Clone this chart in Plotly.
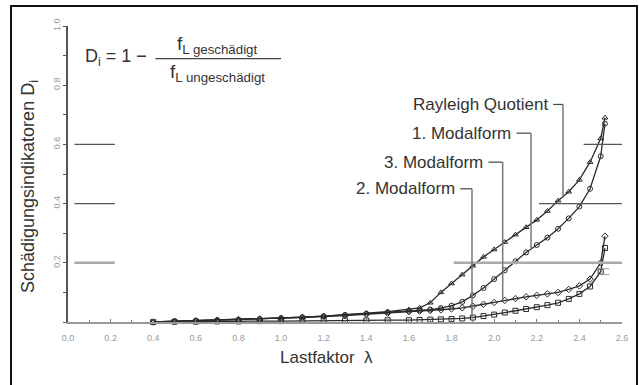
import plotly.graph_objects as go

lam = [0.4, 0.5, 0.6, 0.7, 0.8, 0.9, 1.0, 1.1, 1.2, 1.3, 1.4, 1.5, 1.6,
       1.65, 1.7, 1.75, 1.8, 1.85, 1.9, 1.95, 2.0, 2.05, 2.1, 2.15, 2.2,
       2.25, 2.3, 2.35, 2.4, 2.45, 2.5, 2.52]

rayleigh = [0, 0.002, 0.004, 0.006, 0.008, 0.01, 0.013, 0.016, 0.02, 0.024, 0.03, 0.035, 0.042,
            0.048, 0.065, 0.1, 0.13, 0.16, 0.19, 0.22, 0.245, 0.27, 0.295, 0.32, 0.345,
            0.375, 0.41, 0.44, 0.48, 0.54, 0.62, 0.69]
modal1 = [0, 0.002, 0.004, 0.006, 0.008, 0.01, 0.013, 0.016, 0.02, 0.024, 0.028, 0.033, 0.038,
          0.04, 0.042, 0.047, 0.055, 0.068, 0.09, 0.115, 0.145, 0.175, 0.205, 0.235, 0.26,
          0.285, 0.315, 0.35, 0.39, 0.45, 0.56, 0.67]
modal3 = [0, 0.002, 0.004, 0.006, 0.008, 0.01, 0.012, 0.015, 0.018, 0.022, 0.026, 0.03, 0.035,
          0.037, 0.039, 0.041, 0.044, 0.048, 0.053, 0.06, 0.066, 0.073, 0.079, 0.085, 0.09,
          0.095, 0.1, 0.11, 0.122, 0.145, 0.2, 0.29]
modal2 = [0, 0.001, 0.001, 0.002, 0.002, 0.003, 0.003, 0.004, 0.004, 0.005, 0.005, 0.006, 0.006,
          0.007, 0.008, 0.009, 0.01, 0.012, 0.015, 0.02, 0.025, 0.032, 0.038, 0.044, 0.05,
          0.057, 0.065, 0.078, 0.095, 0.12, 0.17, 0.25]

series_names = ["Rayleigh Quotient", "1. Modalform", "3. Modalform", "2. Modalform"]
series_values = [rayleigh, modal1, modal3, modal2]
series_symbols = ["triangle-up-open", "circle-open", "diamond-open", "square-open"]

x_ticks = [0.0, 0.2, 0.4, 0.6, 0.8, 1.0, 1.2, 1.4, 1.6, 1.8, 2.0, 2.2, 2.4, 2.6]
x_tick_labels = ["0.0", "0.2", "0.4", "0.6", "0.8", "1.0", "1.2", "1.4", "1.6", "1.8", "2.0", "2.2", "2.4", "2.6"]
y_ticks = [0.2, 0.4, 0.6, 0.8, 1.0]
y_tick_labels = ["0.2", "0.4", "0.6", "0.8", "1.0"]

# label placement: (text right end x, text y, vertical line x, end y on curve)
label_pos = [(2.262, 0.735, 2.323, 0.42),
             (2.090, 0.638, 2.173, 0.243),
             (1.958, 0.540, 2.040, 0.074),
             (1.826, 0.450, 1.896, 0.014)]

FONT = "Liberation Sans, Arial, sans-serif"
LINE = "#2b2b2b"

fig = go.Figure()
for name, vals, sym in zip(series_names, series_values, series_symbols):
    fig.add_trace(go.Scatter(
        x=lam, y=vals, mode="lines+markers", name=name,
        line=dict(color=LINE, width=1.3),
        marker=dict(symbol=sym, size=5, color=LINE, line=dict(width=1)),
        showlegend=False, cliponaxis=False))

shapes = []
# reference horizontal lines
for y, x0l, x1l, x0r, col, w in [(0.6, 0.03, 0.22, 2.42, "#555", 1.2),
                                  (0.4, 0.03, 0.22, 2.21, "#555", 1.2),
                                  (0.2, 0.03, 0.22, 1.81, "#aaa", 2.5)]:
    shapes.append(dict(type="line", xref="x", yref="y", x0=x0l, x1=x1l, y0=y, y1=y,
                       line=dict(color=col, width=w)))
    shapes.append(dict(type="line", xref="x", yref="y", x0=x0r, x1=2.6, y0=y, y1=y,
                       line=dict(color=col, width=w)))
# small marks near the end
for y in [0.18, 0.16]:
    shapes.append(dict(type="line", xref="x", yref="y", x0=2.49, x1=2.54, y0=y, y1=y,
                       line=dict(color="#999", width=1)))

annotations = []
for name, (tx, ty, vx, vy) in zip(series_names, label_pos):
    annotations.append(dict(x=tx, y=ty, xref="x", yref="y", text=name, showarrow=False,
                            xanchor="right", yanchor="middle",
                            font=dict(family=FONT, size=17, color="#333")))
    shapes.append(dict(type="line", xref="x", yref="y", x0=tx + 0.015, x1=vx, y0=ty, y1=ty,
                       line=dict(color="#444", width=1.2)))
    shapes.append(dict(type="line", xref="x", yref="y", x0=vx, x1=vx, y0=ty, y1=vy,
                       line=dict(color="#777", width=1.5)))

# formula
annotations.append(dict(x=0.07, y=0.895, xref="x", yref="y", text="D<sub>i</sub> = 1 −",
                        showarrow=False, xanchor="left", yanchor="middle",
                        font=dict(family=FONT, size=18, color="#333")))
annotations.append(dict(x=0.70, y=0.935, xref="x", yref="y",
                        text="f<sub>L geschädigt</sub>", showarrow=False,
                        xanchor="center", yanchor="middle",
                        font=dict(family=FONT, size=19, color="#333")))
annotations.append(dict(x=0.70, y=0.84, xref="x", yref="y",
                        text="f<sub>L ungeschädigt</sub>", showarrow=False,
                        xanchor="center", yanchor="middle",
                        font=dict(family=FONT, size=19, color="#333")))
shapes.append(dict(type="line", xref="x", yref="y", x0=0.41, x1=1.0, y0=0.89, y1=0.89,
                   line=dict(color="#444", width=1.2)))

# axis titles
annotations.append(dict(x=(326 - 68) / 554, y=(322 - 357) / 296, xref="paper", yref="paper",
                        text="Lastfaktor  λ", showarrow=False, xanchor="center", yanchor="middle",
                        font=dict(family=FONT, size=17, color="#333")))
annotations.append(dict(x=(30 - 68) / 554, y=(322 - 187) / 296, xref="paper", yref="paper",
                        text="Schädigungsindikatoren D<sub>i</sub>", showarrow=False, textangle=-90,
                        xanchor="center", yanchor="middle",
                        font=dict(family=FONT, size=18, color="#333")))

# outer frame
shapes.append(dict(type="rect", xref="paper", yref="paper",
                   x0=(11 - 68) / 554, x1=(637 - 68) / 554,
                   y0=(322 - 400) / 296, y1=(322 - 6) / 296,
                   line=dict(color="#111", width=2), fillcolor="rgba(0,0,0,0)", layer="below"))

fig.update_layout(
    width=639, height=385,
    margin=dict(l=68, r=17, t=26, b=63),
    paper_bgcolor="white", plot_bgcolor="white",
    shapes=shapes, annotations=annotations,
    xaxis=dict(range=[0, 2.6], tickvals=x_ticks, ticktext=x_tick_labels,
               showgrid=False, zeroline=False, showline=True, linecolor="#999", linewidth=2,
               ticks="inside", ticklen=3, tickcolor="#777", ticklabelstandoff=6,
               minor=dict(dtick=0.1, ticks="inside", ticklen=2, tickcolor="#777"),
               tickfont=dict(family=FONT, size=9, color="#999")),
    yaxis=dict(range=[0, 1.0], tickvals=y_ticks, ticktext=y_tick_labels, tickangle=-90,
               showgrid=False, zeroline=False, showline=True, linecolor="#555", linewidth=1.5,
               ticks="outside", ticklen=3, tickcolor="#555",
               minor=dict(dtick=0.1, ticks="outside", ticklen=3, tickcolor="#555"),
               tickfont=dict(family=FONT, size=9, color="#999")),
)

fig.write_html("out.html")
